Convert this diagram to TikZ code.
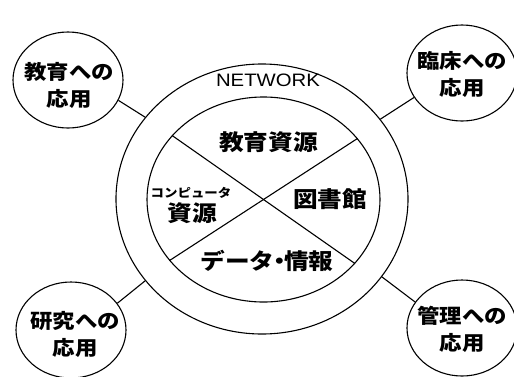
\documentclass[tikz,border=0pt]{standalone}
\usepackage{fontspec}
\newfontfamily\jp{Noto Sans CJK JP}
\newfontfamily\lat{Liberation Sans}
\usetikzlibrary{shapes.geometric}
\tikzset{
  ln/.style={line width=1.1pt, black},
  appl/.style={ellipse, draw, ln, minimum width=110pt, minimum height=96pt, inner sep=0pt},
  appt/.style={xscale=1.12, align=center, inner sep=0pt, font=\jp\bfseries\fontsize{20}{27}\selectfont},
  rest/.style={xscale=1.12, align=center, inner sep=0pt, font=\jp\bfseries\fontsize{22}{24}\selectfont},
}
\begin{document}
\begin{tikzpicture}[x=1pt,y=-1pt]
\useasboundingbox (0,0) rectangle (514,376);
% network rings
\node[ellipse, draw, ln, minimum width=292pt, minimum height=270pt, inner sep=0pt] (net) at (262,199) {};
\node[ellipse, draw, ln, minimum width=233pt, minimum height=205pt, inner sep=0pt] (in) at (263.5,199.5) {};
\draw[ln] (in.145) -- (in.-35);
\draw[ln] (in.33) -- (in.213);
% labels inside
\node[xscale=1.13, inner sep=0pt, font=\lat\fontsize{18}{20}\selectfont] (nw) at (268,80) {NETWORK};
\node[rest] (edu) at (268.5,142.5) {教育資源};
\node[rest] (lib) at (330,199) {図書館};
\node[rest, font=\jp\bfseries\fontsize{12}{14}\selectfont] (comp) at (191,192.5) {コンピュータ};
\node[rest] (src) at (192,213.5) {資源};
\node[rest] (data) at (267,260.5) {データ\hspace{-0.3em}・\hspace{-0.3em}情報};
% application circles
\node[appl] (tl) at (68,80) {};
\node[appl] (tr) at (462,73) {};
\node[appl] (bl) at (71,330) {};
\node[appl] (br) at (462,328) {};
\node[appt] (tlt) at (69,85) {教育への\\応用};
\node[appt] (trt) at (462,74) {臨床への\\応用};
\node[appt] (blt) at (75,334) {研究への\\応用};
\node[appt] (brt) at (462,329) {管理への\\応用};
% connectors
\draw[ln] (tl.-22) -- (net.145.4);
\draw[ln] (tr.-153) -- (net.34.1);
\draw[ln] (bl.30) -- (net.215.8);
\draw[ln] (br.151) -- (net.-33.9);
\end{tikzpicture}
\end{document}
